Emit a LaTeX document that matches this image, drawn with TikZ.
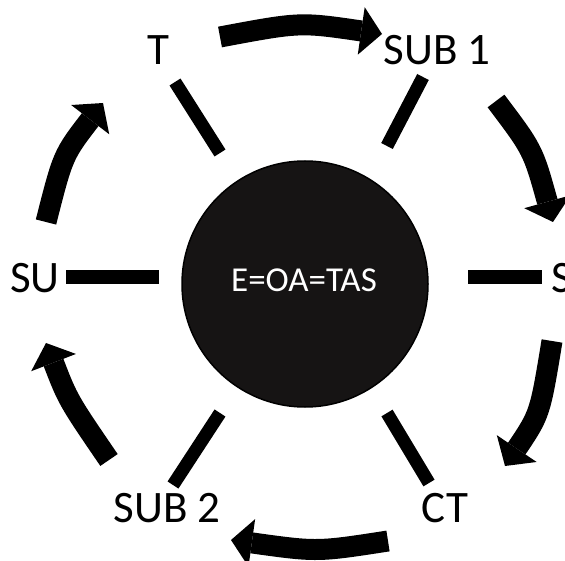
\documentclass[tikz,border=0pt]{standalone}
\usepackage{fontspec}
\setmainfont{Carlito}
\usetikzlibrary{arrows.meta}
\begin{document}
\begin{tikzpicture}[x=1pt,y=-1pt,
  lbl/.style={font=\fontsize{45}{45}\selectfont, inner sep=0pt, anchor=base},
  spoke/.style={line width=13pt},
  cyc/.style={line width=21pt, -{Triangle[width=48pt,length=21pt,line width=0pt]}},
]
\useasboundingbox (0,0) rectangle (565,561);
\clip (0,0) rectangle (565,561);

% central disc
\node[circle, draw=black, line width=1.5pt, fill={rgb,255:red,22;green,20;blue,20},
      minimum size=246pt, inner sep=0pt] (core) at (305,284) {};
\node[font=\fontsize{35}{35}\selectfont, text=white, inner sep=0pt, anchor=base]
      (eq) at (304,292) {E=OA=TAS};

% outer labels
\node[lbl] (t) at (158,65) {T};
\node[lbl] (sub1) at (437,65) {SUB 1};
\node[lbl, anchor=base west] (su) at (10,293) {SU};
\node[lbl, anchor=base west] (s) at (551,293) {S};
\node[lbl] (sub2) at (167,522) {SUB 2};
\node[lbl] (ct) at (445,522) {CT};

% radial spokes
\draw[spoke] (175,82) -- (220,153);
\draw[spoke] (423,77) -- (387,146);
\draw[spoke] (220,413) -- (173,485);
\draw[spoke] (387,413) -- (429,483);
\draw[line width=14pt] (66,277) -- (159,277);
\draw[line width=14pt] (468,277) -- (542,277);

% cycle arrows
\draw[cyc] (220,37) .. controls (300,22) .. (382,34);
\draw[cyc] (496,101) .. controls (533,150) .. (553,222);
\draw[cyc] (552,341) .. controls (540,414) .. (505,466);
\draw[cyc] (388,541) .. controls (317,552) .. (231,540);
\draw[cyc] (109,460) .. controls (68,400) .. (46,343);
\draw[cyc] (46,222) .. controls (63,155) .. (103,103);
\end{tikzpicture}
\end{document}
